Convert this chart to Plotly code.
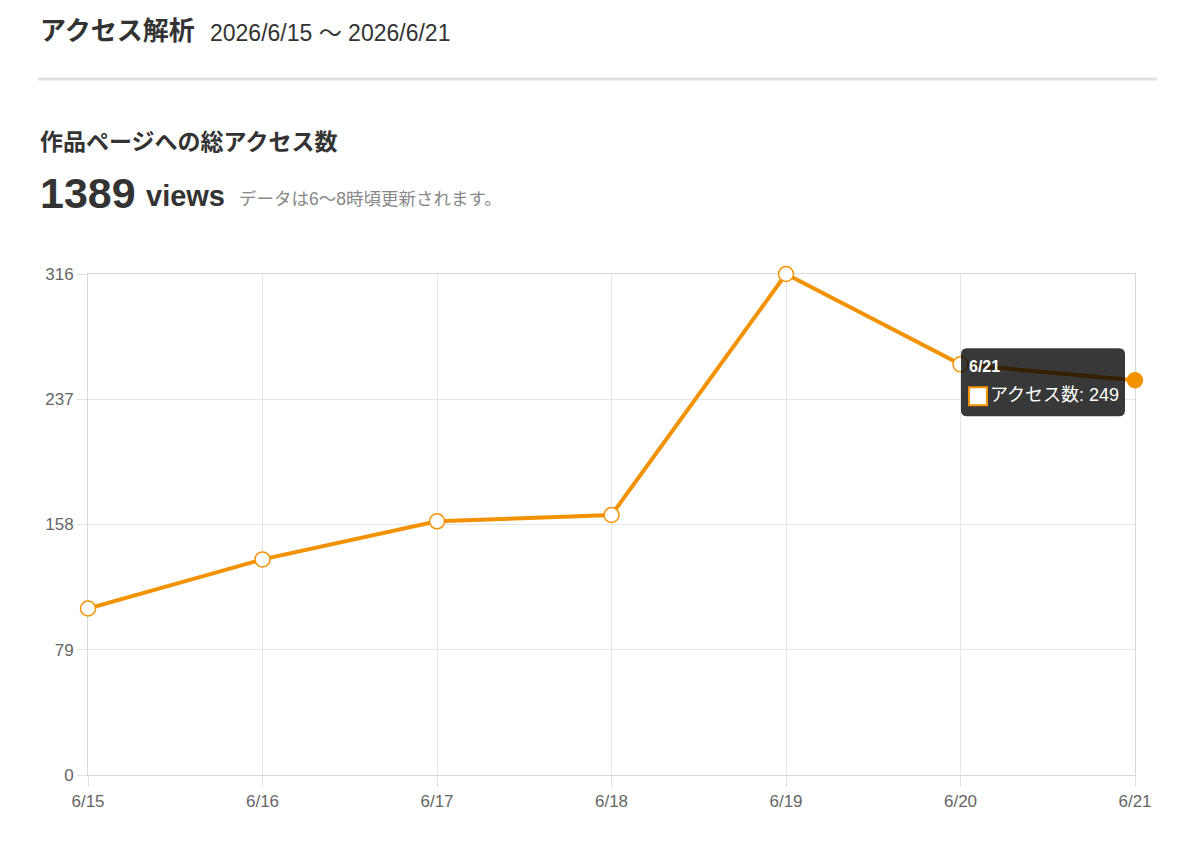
import plotly.graph_objects as go

# daily page views
dates = ['6/15', '6/16', '6/17', '6/18', '6/19', '6/20', '6/21']
views = [105, 136, 160, 164, 316, 259, 249]
y_ticks = [0, 79, 158, 237, 316]

ORANGE = '#f39200'
FONT = 'Liberation Sans, Noto Sans CJK JP, sans-serif'

# page body has an 8px margin, so shift everything by that
OFF = 8
W, H = 1200 - 2 * OFF, 850 - 2 * OFF

# plot area in screenshot pixels
L, R, T, B = 88, 1135, 274, 775


def px(x, y):
    # screenshot pixel -> paper coords
    return (x - L) / (R - L), (B - y) / (B - T)


fig = go.Figure()
fig.add_trace(go.Scatter(
    x=dates, y=views, mode='lines+markers', name='アクセス数',
    line=dict(color=ORANGE, width=4),
    marker=dict(size=15, color=['white'] * (len(dates) - 1) + [ORANGE],
                line=dict(color=ORANGE, width=1.5)),
    cliponaxis=False, showlegend=False,
))

annotations = []


def text(x, y, s, size, color='#333'):
    xp, yp = px(x, y)
    annotations.append(dict(x=xp, y=yp, xref='paper', yref='paper', text=s, showarrow=False,
                            xanchor='left', yanchor='middle', borderpad=0,
                            font=dict(size=size, color=color, family=FONT)))


text(39, 31, '<b>アクセス解析</b>', 26)
text(209, 33, '2026/6/15 〜 2026/6/21', 23)
text(39, 142, '<b>作品ページへの総アクセス数</b>', 23)
text(39, 193, '<b>1389</b>', 43)
text(145, 196, '<b>views</b>', 29)
text(238, 199, 'データは6〜8時頃更新されます。', 17.5, '#888')

# tooltip on the last point
annotations.append(dict(x=dates[-1], y=views[-1], xref='x', yref='y', text='<b>6/21</b>',
                        showarrow=False, xanchor='left', yanchor='middle', xshift=-168, yshift=14,
                        font=dict(size=16, color='white', family=FONT)))
annotations.append(dict(x=dates[-1], y=views[-1], xref='x', yref='y', text='アクセス数: 249',
                        showarrow=False, xanchor='left', yanchor='middle', xshift=-147, yshift=-15,
                        font=dict(size=18, color='white', family=FONT)))

x0, y0 = px(38, 79)
x1, _ = px(1157, 79)
shapes = [
    dict(type='line', xref='paper', yref='paper', x0=x0, x1=x1, y0=y0, y1=y0,
         line=dict(color='#e0e0e0', width=3)),
    dict(type='path', xref='x', yref='y', xsizemode='pixel', ysizemode='pixel',
         xanchor=dates[-1], yanchor=views[-1], layer='above',
         path='M -168,32 L -16,32 Q -10,32 -10,26 L -10,-30 Q -10,-36 -16,-36 '
              'L -168,-36 Q -174,-36 -174,-30 L -174,26 Q -174,32 -168,32 Z',
         fillcolor='rgba(0,0,0,0.78)', line=dict(width=0)),
    dict(type='rect', xref='x', yref='y', xsizemode='pixel', ysizemode='pixel',
         xanchor=dates[-1], yanchor=views[-1], layer='above',
         x0=-166, x1=-148, y0=-25, y1=-7,
         fillcolor='white', line=dict(color=ORANGE, width=2)),
]

fig.update_layout(
    width=W, height=H,
    margin=dict(l=L - OFF, r=W - (R - OFF), t=T - OFF, b=H - (B - OFF)),
    paper_bgcolor='white', plot_bgcolor='white',
    font=dict(family=FONT, color='#666', size=17),
    annotations=annotations, shapes=shapes,
    xaxis=dict(type='category', categoryarray=dates, range=[0, len(dates) - 1],
               showgrid=True, gridcolor='#e6e6e6', ticks='outside', ticklen=11,
               tickcolor='#e0e0e0', showline=True, linecolor='#d8d8d8', mirror=True,
               zeroline=False, layer='below traces', tickfont=dict(size=17, color='#666')),
    yaxis=dict(range=[0, 316], tickvals=y_ticks, showgrid=True, gridcolor='#e6e6e6',
               ticks='outside', ticklen=10, tickcolor='#e0e0e0', showline=True,
               linecolor='#d8d8d8', mirror=True, zeroline=False, layer='below traces',
               tickfont=dict(size=17, color='#666')),
)

fig.write_html('out.html')
